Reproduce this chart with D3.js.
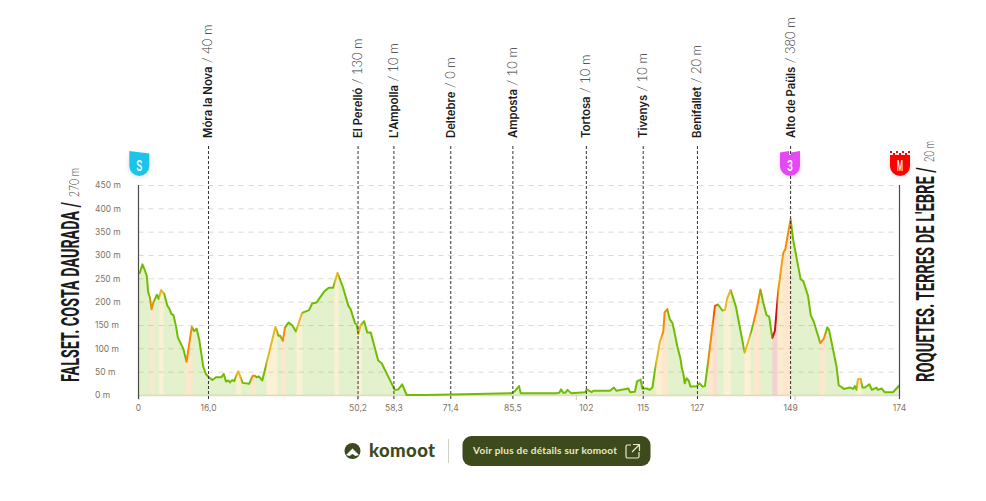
<html><head><title>Profil komoot</title>
<style>
    body { margin: 0; background: #fff; }
    svg { display: block; }
</style>
</head>
<body>
<svg id="chart" width="986" height="501"></svg>
<script src="https://d3js.org/d3.v7.min.js"></script>
<script>
    // distance (km) and elevation (m)
    const distances = [0,.3,.9,1.3,1.9,2.2,2.6,3,3.4,4.2,4.6,5.2,5.9,6.6,7,7.5,8,8.6,9,10.2,11,11.5,12.2,12.7,13.3,13.9,14.8,15.4,16.1,16.9,17.7,18.9,19.5,20,20.5,20.9,21.4,21.9,22.8,23.8,25.3,26.1,26.6,27,27.5,28.3,29.1,31.3,32,32.4,33,33.5,34.3,35.1,36,37.4,39,39.7,40.7,42.4,43.5,44.5,45.5,46.7,48,48.5,49.5,49.9,50.3,50.8,51.6,52.3,53.1,54.8,55.6,58.6,59.4,60.3,61.3,65.5,71.6,85.3,86.1,87,87.4,95.6,96.2,96.6,97.1,97.6,98.1,98.9,102.1,102.5,103.6,104,107.8,108.7,109.3,112,112.4,113.5,114,114.8,115.2,116.2,116.9,117.5,118.1,119.2,120,120.3,120.9,121.5,122.1,122.6,123.2,123.9,124.3,124.5,124.9,125.3,125.8,126.2,127.6,128.3,129,129.5,130.3,131.8,132.5,133.5,134.1,134.6,135.4,136.6,138.6,139.4,140.5,141.3,142.2,142.8,143.6,144.2,144.9,145.5,146.3,147.4,147.9,149.1,149.7,150.7,151.4,152,153.1,153.7,154.4,155.9,156.7,157.5,157.9,159.6,160.1,161.3,162.6,163.4,163.8,164.2,164.5,165.1,165.5,166.1,167.1,167.7,168.7,169.1,169.9,170.6,172.5,174];
    const elevations = [261,262,280,271,255,221,209,184,198,215,206,225,216,191,186,174,171,146,123,100,71,104,146,137,142,118,61,45,38,32,38,38,45,29,31,27,32,30,51,26,24,41,41,38,40,31,61,146,127,127,116,145,155,150,136,176,182,196,198,221,230,230,262,232,191,184,154,150,131,150,158,134,134,74,68,11,12,23,0,0,1,4,9,19,4,4,5,12,5,5,11,4,6,12,6,9,9,16,9,14,6,7,29,33,14,14,11,16,54,114,136,177,184,162,154,132,104,79,54,50,25,36,31,18,19,25,18,19,75,191,194,181,182,207,225,189,91,114,150,182,226,200,171,168,122,137,225,304,313,377,332,282,248,244,212,171,157,111,121,145,139,61,21,13,16,13,19,11,34,35,16,16,23,11,16,11,14,6,6,21];

    // steep stretches: start km, end km, colour
    const steepFrom = [2.8,4.8,10.9,22.4,25.9,29.3,32.6,36.2,44.9,50.3,118.3,119.6,130.3,131.4,133.8,138.6,140.7,145,146.1,147.4,155.8,164.3];
    const steepTo = [3.5,5.7,12.3,23.4,26.6,31.6,33.5,37.4,45.7,51,119.6,120.9,131.4,132.2,135.4,139.9,142.1,146.1,147.4,149.1,157,165.2];
    const steepColor = ['#f78a00','#e9b625','#f78a00','#e9b625','#f78a00','#e9b625','#f78a00','#e9b625','#e9b625','#e9b625','#e9b625','#f78a00','#f78a00','#e8560f','#e9b625','#e9b625','#f78a00','#c81414','#f0a010','#f78a00','#f78a00','#e9b625'];
    const flatColor = '#6fbc00';

    // waypoints along the route
    const poiNames = ['Móra la Nova','El Perelló',"L'Ampolla",'Deltebre','Amposta','Tortosa','Tivenys','Benifallet','Alto de Paüls'];
    const poiHeights = ['40 m','130 m','10 m','0 m','10 m','10 m','10 m','20 m','380 m'];
    const poiKm = [16,50.2,58.4,71.4,85.6,102.4,115.4,127.8,149.1];
    const poiTicks = ['16,0','50,2','58,3','71,4','85,5','102','115','127','149'];

    const yTicks = [0,50,100,150,200,250,300,350,400,450];
    const minorTicks = [0,50,100,150];

    const svg = d3.select("#chart");
    const x = d3.scaleLinear().domain([0,174]).range([138.5,899.5]);
    const y = d3.scaleLinear().domain([0,450]).range([395,185]);

    // shared left-to-right gradient for line and area
    const defs = svg.append("defs");
    const grad = defs.append("linearGradient").attr("id","profileGrad")
        .attr("gradientUnits","userSpaceOnUse")
        .attr("x1",x(0)).attr("x2",x(174)).attr("y1",0).attr("y2",0);
    const addStop = (km,c) => grad.append("stop").attr("offset",km/174).attr("stop-color",c);
    addStop(0,flatColor);
    steepFrom.forEach((from,i) => {
        const gap = from - (i ? steepTo[i-1] : 0);
        if (gap > 0.01) addStop(from - Math.min(0.25,gap/2),flatColor);
        addStop(from+0.1,steepColor[i]);
        addStop(steepTo[i]-0.1,steepColor[i]);
        const next = steepFrom[i+1];
        if (next === undefined || next - steepTo[i] > 0.01) addStop(steepTo[i]+0.25,flatColor);
    });
    addStop(174,flatColor);

    const shadow = defs.append("filter").attr("id","soft").attr("x","-40%").attr("y","-40%").attr("width","180%").attr("height","180%");
    shadow.append("feDropShadow").attr("dx",0).attr("dy",1).attr("stdDeviation",2.5).attr("flood-color","#000").attr("flood-opacity",0.15);

    // grid
    svg.append("g").selectAll("line").data(yTicks).join("line")
        .attr("x1",x(0)).attr("x2",x(174))
        .attr("y1",d => y(d)+.5).attr("y2",d => y(d)+.5)
        .attr("stroke","#ddd9cd")
        .attr("stroke-dasharray",d => d === 0 ? null : "5 5")
        .attr("stroke-width",d => d === 0 ? 1.5 : 1);

    // y axis labels
    const yAxis = svg.append("g").attr("transform","translate(95,0)")
        .call(d3.axisLeft(y).tickValues(yTicks).tickSize(0).tickFormat(d => d + " m"));
    yAxis.select(".domain").remove();
    yAxis.selectAll("text")
        .attr("x",0).attr("text-anchor","start")
        .attr("font-family","Inter").attr("font-size",8.5).attr("fill","#7f7364");

    // small km ticks
    const minor = svg.append("g").attr("transform","translate(0,395)")
        .call(d3.axisBottom(x).tickValues(minorTicks).tickSize(5).tickFormat(""));
    minor.select(".domain").remove();
    minor.selectAll("line").attr("stroke","#cfcabd");

    // area + line
    const points = distances.map((d,i) => [d,elevations[i]]);
    svg.append("path").datum(points)
        .attr("fill","url(#profileGrad)").attr("fill-opacity",0.2)
        .attr("d",d3.area().x(d => x(d[0])).y0(y(0)).y1(d => y(d[1])));
    svg.append("path").datum(points)
        .attr("fill","none").attr("stroke","url(#profileGrad)")
        .attr("stroke-width",2).attr("stroke-linejoin","round")
        .attr("d",d3.line().x(d => x(d[0])).y(d => y(d[1])));

    // side axes
    [0,174].forEach(km => {
        svg.append("line").attr("x1",x(km)).attr("x2",x(km)).attr("y1",185).attr("y2",399)
            .attr("stroke","#4a4a4a").attr("stroke-width",1.2);
    });

    // waypoint lines and labels
    const poi = svg.append("g").selectAll("g").data(poiKm).join("g")
        .attr("transform",d => `translate(${x(d)},0)`);
    poi.append("line").attr("x1",0).attr("x2",0).attr("y1",146).attr("y2",400)
        .attr("stroke","#333").attr("stroke-dasharray","3 2").attr("stroke-width",1);
    const poiLabel = poi.append("text")
        .attr("transform","translate(4,138) rotate(-90)");
    poiLabel.append("tspan").attr("font-family","Inter").attr("font-weight",600).attr("fill","#1b1b1b")
        .attr("font-size",11.3).text((d,i) => poiNames[i]);
    poiLabel.append("tspan").attr("font-family","Lato").attr("font-weight",300).attr("fill","#333")
        .attr("font-size",13).text((d,i) => " / " + poiHeights[i]);

    // km labels
    const kmValues = [0].concat(poiKm,[174]);
    const kmLabels = ['0'].concat(poiTicks,['174']);
    svg.append("g").selectAll("text").data(kmValues).join("text")
        .attr("x",d => x(d)).attr("y",411).attr("text-anchor","middle")
        .attr("font-family","Inter").attr("font-size",8.5).attr("fill","#7f7364")
        .text((d,i) => kmLabels[i]);

    // rotated text squeezed along its length to the width it has in the picture
    function squeezed(tx, ty, str, len, family, weight, size, color) {
        const t = svg.append("text")
            .attr("font-family",family).attr("font-weight",weight).attr("font-size",size).attr("fill",color)
            .text(str);
        const sx = len / t.node().getComputedTextLength();
        t.attr("transform",`translate(${tx},${ty}) rotate(-90) scale(${sx},1)`);
    }
    squeezed(79,382,"FALSET. COSTA DAURADA /",180,"Roboto",700,26.5,"#1b1b1b");
    squeezed(79,197,"270 m",29,"Lato",300,14,"#444");
    squeezed(934,382,"ROQUETES. TERRES DE L'EBRE /",215,"Roboto",700,26.5,"#1b1b1b");
    squeezed(934,162,"20 m",21,"Lato",300,14,"#444");

    // shield badges
    const shield = "M-10,4 L10,4 L10,15 A10 10 0 0 1 -10,15 Z";
    function badge(cx, color, letter) {
        const g = svg.append("g").attr("transform",`translate(${cx},151)`);
        g.append("path").attr("d",shield).attr("fill",color).attr("filter","url(#soft)");
        g.append("text").attr("x",0).attr("y",19.5).attr("text-anchor","middle")
            .attr("font-family","Roboto").attr("font-weight",500).attr("font-size",14).attr("fill","#fff")
            .attr("textLength",6).attr("lengthAdjust","spacingAndGlyphs").text(letter);
        return g;
    }
    const startBadge = badge(139.3,"#1fc4ec","S");
    startBadge.append("path").attr("d","M-10,0 L10,2.5 L10,4 L-10,4 Z").attr("fill","#1fc4ec");
    const climbBadge = badge(790,"#e548f5","3");
    climbBadge.append("path").attr("d","M-10,1.5 L-1,0 L-1,4 L-10,4 Z M1,1.5 L10,0 L10,4 L1,4 Z").attr("fill","#e548f5");
    const finishBadge = badge(900,"#ff0000","M");
    d3.range(7).forEach(i => {
        finishBadge.append("rect").attr("x",-10+i*3).attr("y",i%2 ? 2 : 0).attr("width",2).attr("height",2).attr("fill","#ff0000");
    });

    // komoot footer
    const logo = svg.append("g").attr("transform","translate(352.5,451)");
    logo.append("circle").attr("r",8).attr("fill","#3c4a1e");
    logo.append("path").attr("d","M0,-2.5 L6.5,4 L3,5 L0,3 L-3,5 L-6.5,4 Z").attr("fill","#fff");
    svg.append("text").attr("x",369).attr("y",456.5)
        .attr("font-family","Lato").attr("font-weight",900).attr("font-size",18.5).attr("fill","#3c4a1e")
        .attr("textLength",66).attr("lengthAdjust","spacing").text("komoot");
    svg.append("line").attr("x1",448.5).attr("x2",448.5).attr("y1",439).attr("y2",463).attr("stroke","#cfcfc8");
    svg.append("rect").attr("x",462.5).attr("y",436).attr("width",188).attr("height",30).attr("rx",9).attr("fill","#3c4a1c");
    svg.append("text").attr("x",473).attr("y",454)
        .attr("font-family","Lato").attr("font-weight",700).attr("font-size",10).attr("fill","#ecebc9")
        .attr("textLength",144).attr("lengthAdjust","spacing").text("Voir plus de détails sur komoot");
    svg.append("path").attr("d","M631,445 H627.5 Q626,445 626,446.5 V456.5 Q626,458 627.5,458 H637.5 Q639,458 639,456.5 V452 M633,444.5 H639.5 V451 M639,445 L632,452")
        .attr("fill","none").attr("stroke","#ecebc9").attr("stroke-width",1.2);
</script>
</body>
</html>
